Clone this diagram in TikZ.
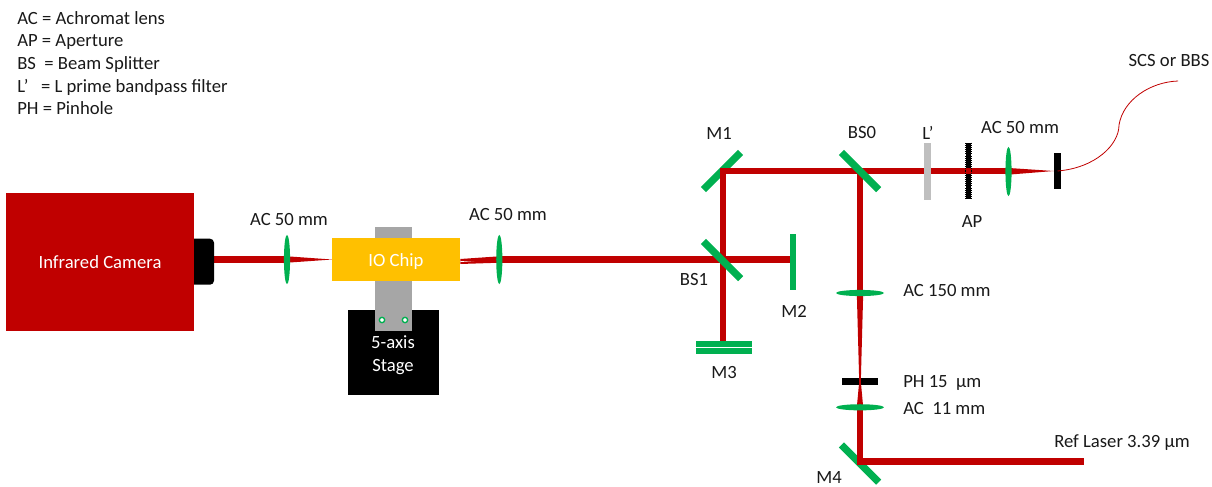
\documentclass[tikz,border=0pt]{standalone}
\usepackage{fontspec}
\setmainfont{Carlito}
\usetikzlibrary{shapes.geometric,calc,backgrounds}
\definecolor{beamred}{HTML}{C00000}
\definecolor{optgreen}{HTML}{00B050}
\definecolor{chipyellow}{HTML}{FFC000}
\definecolor{slabgray}{HTML}{A6A6A6}
\definecolor{filtgray}{HTML}{BFBFBF}
\tikzset{
  lbl/.style={font=\fontsize{14}{16}\selectfont,text=black!90,inner sep=0pt},
  lblb/.style={lbl,anchor=base},
  lblw/.style={lbl,anchor=base west},
  whitet/.style={lbl,anchor=base,text=white},
  box/.style={rectangle,inner sep=0pt},
  mirror/.style={rectangle,fill=optgreen,inner sep=0pt,minimum width=39.5pt,minimum height=5.4pt},
  vlens/.style={ellipse,fill=optgreen,inner sep=0pt,minimum width=4.6pt,minimum height=37pt},
  hlens/.style={ellipse,fill=optgreen,inner sep=0pt,minimum width=36pt,minimum height=4.6pt},
  beam/.style={draw=beamred,line width=4.8pt,line join=miter},
  wedge/.style={fill=beamred,draw=none},
  dot/.style={circle,draw=optgreen,fill=white,line width=1pt,inner sep=0pt,minimum size=4pt}
}
\begin{document}
\begin{tikzpicture}[x=0.75pt,y=-0.75pt]
\useasboundingbox (0,0) rectangle (1212,486);
% legend
\node[lblw] (k1) at (17,24) {AC = Achromat lens};
\node[lblw] (k2) at (17,46) {AP = Aperture};
\node[lblw] (k3) at (17,69) {BS\ \ = Beam Splitter};
\node[lblw] (k4) at (17,92) {L’\ \ \ = L prime bandpass filter};
\node[lblw] (k5) at (17,114) {PH = Pinhole};
% camera
\node[rectangle,fill=black,rounded corners=3pt,inner sep=0pt,minimum width=22.5pt,minimum height=34.5pt] (snout) at (199,261.7) {};
\node[box,fill=beamred,minimum width=141pt,minimum height=104pt] (cam) at (100,262) {};
\node[whitet] (camt) at (100,268) {Infrared Camera};
% stage and chip
\node[box,fill=black,minimum width=68.2pt,minimum height=64pt] (stage) at (393.5,352.5) {};
\node[rectangle,fill=slabgray,inner sep=0pt,minimum width=27.7pt,minimum height=78pt] (slab) at (393.3,279) {};
\node[box,fill=chipyellow,minimum width=95.7pt,minimum height=32.5pt] (chip) at (396.2,259.7) {};
\node[whitet] (chipt) at (396,266) {IO Chip};
\node[dot] (d1) at (382,320) {};
\node[dot] (d2) at (405,320) {};
\node[whitet] (st1) at (393,348) {5-axis};
\node[whitet] (st2) at (393,371) {Stage};
% optics
\node[vlens] (l1) at (287,259.5) {};
\node[vlens] (l2) at (499.3,259.5) {};
\node[mirror,rotate=-45] (bs1) at (722,260) {};
\node[rectangle,fill=optgreen,inner sep=0pt,minimum width=4.7pt,minimum height=42pt] (m2) at (793,262) {};
\node[rectangle,fill=optgreen,inner sep=0pt,minimum width=42pt,minimum height=4.5pt] (m3a) at (724,343.6) {};
\node[rectangle,fill=optgreen,inner sep=0pt,minimum width=42pt,minimum height=4.5pt] (m3b) at (724,351) {};
\node[mirror,rotate=-45] (bs0) at (860,171) {};
\node[rectangle,fill=filtgray,inner sep=0pt,minimum width=4.7pt,minimum height=42.3pt] (lp) at (927.5,171.5) {};
\node[rectangle,fill=black,inner sep=0pt,minimum width=3.4pt,minimum height=42pt] (ap) at (968.3,171) {};
\draw[black,line width=4.8pt,dash pattern=on 0.8pt off 0.8pt] (ap.north) -- (ap.south);
\node[vlens] (l3) at (1008.5,171.5) {};
\node[rectangle,fill=black,inner sep=0pt,minimum width=5.2pt,minimum height=27pt] (fib) at (1057.5,171) {};
\node[hlens] (l4) at (860,293) {};
\node[rectangle,fill=black,inner sep=0pt,minimum width=27.7pt,minimum height=5pt] (ph) at (860,381.5) {};
\node[hlens] (l5) at (860,407.3) {};
\coordinate (laser) at (1084,461.3);
\coordinate (fibend) at (1178,81);
\begin{pgfonlayer}{background}
  \node[mirror,rotate=45] (m1) at (722,171) {};
  \node[mirror,rotate=-45] (m4) at (860,463.5) {};
  % beams
  \draw[beam] (snout.east |- l1.center) -- (l1.center);
  \fill[wedge] ($(l1.center)+(0,-3.2)$) -- (chip.west |- l1.center) -- ($(l1.center)+(0,3.2)$) -- cycle;
  \draw[beam] (l2.center) -- (l2.center -| m2.center);
  \draw[beam] (m3a.center -| 723,0) -- (723,171.2) -- (l3.center |- 723,171.2);
  \draw[beam] (bs0.center) -- (l4.center);
  \fill[wedge] ($(l4.center)+(-3.2,0)$) -- ($(ph.center)+(-0.8,0)$) -- ($(ph.center)+(0.8,0)$) -- ($(l4.center)+(3.2,0)$) -- cycle;
  \fill[wedge] ($(l5.center)+(-3.2,0)$) -- ($(ph.center)+(-0.8,0)$) -- ($(ph.center)+(0.8,0)$) -- ($(l5.center)+(3.2,0)$) -- cycle;
  \draw[beam] (l5.center) -- (860,461.3) -- (laser);
  \fill[wedge] (1009,168) -- (fib.west |- 0,171) -- (1009,174.6) -- cycle;
  \fill[wedge] ($(chip.east |- 0,259.5)+(0,-0.5)$) -- ($(l2.center)+(0,-3.2)$) -- ($(l2.center)+(0,3.2)$) -- ($(chip.east |- 0,259.5)+(0,4.5)$) -- cycle;
\end{pgfonlayer}
\fill[white] ($(chip.east |- 0,259.5)+(0,1.5)$) -- ++(14,0) -- ++(-14,1) -- cycle;
\fill[beamred] ($(ph.center)+(-0.8,-3.4)$) rectangle ($(ph.center)+(0.8,3.4)$);
\fill[beamred] ($(ap.center)+(-2.6,-3)$) rectangle ($(ap.center)+(2.6,3)$);
\draw[beamred,line width=0.6pt] (fib.center |- 0,171) .. controls (1095,168) and (1119,145) .. (1119,125) .. controls (1123,100) and (1150,82) .. (fibend);
% labels
\node[lbl] (t1) at (289,220) {AC 50 mm};
\node[lbl] (t2) at (508,215) {AC 50 mm};
\node[lbl] (t3) at (719,133) {M1};
\node[lbl] (t4) at (862,133) {BS0};
\node[lbl] (t5) at (928,133) {L’};
\node[lbl] (t6) at (1020,128) {AC 50 mm};
\node[lbl] (t7) at (972,222) {AP};
\node[lbl] (t8) at (694,279) {BS1};
\node[lbl] (t9) at (794,311) {M2};
\node[lbl] (t10) at (724,372) {M3};
\node[lbl,anchor=west] (t11) at (903,290) {AC 150 mm};
\node[lbl,anchor=west] (t12) at (903,383) {PH 15\ \ µm};
\node[lbl,anchor=west] (t13) at (903,408) {AC\ \ 11 mm};
\node[lbl,anchor=west] (t14) at (1054,443) {Ref Laser 3.39 µm};
\node[lbl] (t15) at (829,477) {M4};
\node[lbl] (t16) at (1169,61) {SCS or BBS};
\end{tikzpicture}
\end{document}
